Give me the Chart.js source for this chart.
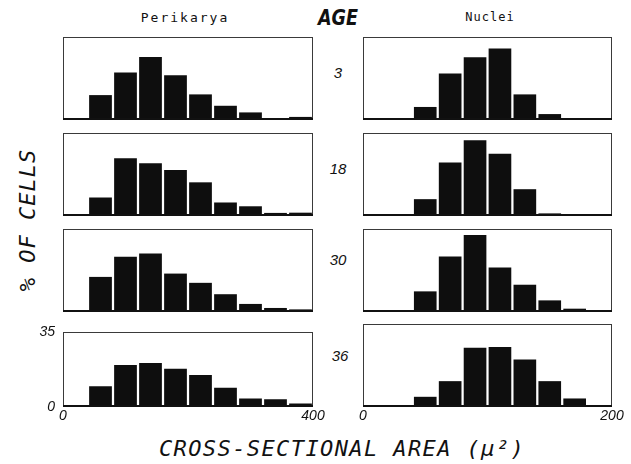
<!DOCTYPE html>
<html><head><meta charset="utf-8">
<script src="https://cdn.jsdelivr.net/npm/chart.js@4.4.1/dist/chart.umd.min.js"></script>
<style>
html,body{margin:0;padding:0;background:#fff;width:631px;height:464px;overflow:hidden;position:relative}
canvas{position:absolute}
.t{position:absolute;white-space:nowrap;color:#111;transform:translate(-50%,-50%);line-height:1}
</style></head><body>
<div class="t" style="left:185px;top:17px;font:13px 'DejaVu Sans Mono';letter-spacing:2px">Perikarya</div>
<div class="t" style="left:338px;top:17px;font:italic bold 22px 'DejaVu Sans';transform:translate(-50%,-50%) scaleX(0.8)">AGE</div>
<div class="t" style="left:490px;top:17px;font:12px 'DejaVu Sans Mono';letter-spacing:1px">Nuclei</div>
<div class="t" style="left:338px;top:72px;font:italic 15px 'Liberation Sans'">3</div>
<div class="t" style="left:338px;top:168px;font:italic 15px 'Liberation Sans'">18</div>
<div class="t" style="left:338px;top:259px;font:italic 15px 'Liberation Sans'">30</div>
<div class="t" style="left:340px;top:355px;font:italic 15px 'Liberation Sans'">36</div>
<div class="t" style="left:27px;top:220px;font:italic 22px 'DejaVu Sans Mono';letter-spacing:1px;transform:translate(-50%,-50%) rotate(-90deg)">% OF CELLS</div>
<div class="t" style="left:342px;top:448px;font:italic 22px 'DejaVu Sans Mono';letter-spacing:1.4px">CROSS-SECTIONAL AREA (μ²)</div>
<script>
// Bin centres (µm²)
const perikaryaBins = [60, 100, 140, 180, 220, 260, 300, 340, 380];
const nucleiBins = [50, 70, 90, 110, 130, 150, 170, 190];
// % of cells, perikarya, by age (months)
const peri3  = [10.5, 20.0, 26.6, 18.9, 10.8, 6.0, 3.2, 0.8, 1.3];
const peri18 = [7.8, 24.4, 22.2, 19.4, 14.2, 5.7, 4.1, 1.3, 1.4];
const peri30 = [14.8, 23.3, 24.7, 16.2, 12.3, 7.5, 3.4, 1.7, 1.1];
const peri36 = [9.7, 19.7, 20.7, 18.0, 15.0, 9.0, 4.0, 3.6, 1.6];
// % of cells, nuclei, by age
const nuc3  = [5.5, 19.6, 26.5, 30.1, 10.8, 2.5, 0.7, 0.7];
const nuc18 = [7.1, 22.6, 31.9, 26.2, 11.3, 1.1, 0.3, 0];
const nuc30 = [8.7, 23.4, 32.5, 18.8, 11.5, 4.9, 1.4, 0];
const nuc36 = [4.3, 10.9, 25.0, 25.3, 20.0, 10.9, 3.6, 0.7];
const yTicks = [0, 35];
const periXTicks = [0, 400];
const nucXTicks = [0, 200];

const framePlugin = {
  id: 'frame',
  afterDatasetsDraw(chart) {
    const {ctx, chartArea: a} = chart;
    ctx.save();
    ctx.strokeStyle = '#3a3a3a';
    ctx.lineWidth = 1;
    ctx.strokeRect(Math.round(a.left) + 0.5, Math.round(a.top) + 0.5,
      Math.round(a.right - a.left) - 1, Math.round(a.bottom - a.top) - 1);
    ctx.strokeStyle = '#111';
    ctx.lineWidth = 2;
    ctx.beginPath();
    ctx.moveTo(a.left, a.bottom - 1);
    ctx.lineTo(a.right, a.bottom - 1);
    ctx.stroke();
    ctx.restore();
  }
};

const YW = 36, PT = 8, PR = 22, XH = 20;
function panel(left, top, w, h, bins, vals, xTicks, showX, showY) {
  const c = document.createElement('canvas');
  const cw = YW + w + PR, ch = PT + h + XH;
  c.width = cw; c.height = ch;
  c.style.left = (left - YW) + 'px'; c.style.top = (top - PT) + 'px';
  c.style.width = cw + 'px'; c.style.height = ch + 'px';
  document.body.appendChild(c);
  const tickFont = {family: 'Liberation Sans', style: 'italic', size: 14};
  new Chart(c, {
    type: 'bar',
    data: {datasets: [{
      data: bins.map((b, i) => ({x: b, y: vals[i]})),
      backgroundColor: '#0e0e0e', borderWidth: 0,
      barPercentage: 0.91, categoryPercentage: 1
    }]},
    options: {
      responsive: false, animation: false, devicePixelRatio: 1,
      layout: {padding: {top: PT, right: PR, left: 0, bottom: 0}},
      plugins: {legend: {display: false}, tooltip: {enabled: false}},
      scales: {
        x: {
          type: 'linear', min: xTicks[0], max: xTicks[1], offset: false,
          grid: {display: false, drawTicks: false}, border: {display: false},
          afterBuildTicks: s => { s.ticks = xTicks.map(v => ({value: v})); },
          afterFit: s => { s.height = XH; },
          ticks: {display: showX, padding: 1, maxRotation: 0, autoSkip: false, color: '#111', font: tickFont}
        },
        y: {
          min: yTicks[0], max: yTicks[1],
          grid: {display: false, drawTicks: false}, border: {display: false},
          afterBuildTicks: s => { s.ticks = yTicks.map(v => ({value: v})); },
          afterFit: s => { s.width = YW; },
          ticks: {display: showY, padding: 8, color: '#111', font: tickFont}
        }
      }
    },
    plugins: [framePlugin]
  });
}
const LX = 63, RX = 363, LW = 250, RW = 249, PH = 83;
const rows = [37, 133, 229, 324];
const periData = [peri3, peri18, peri30, peri36];
const nucData = [nuc3, nuc18, nuc30, nuc36];
rows.forEach((t, i) => {
  const last = i === rows.length - 1;
  panel(LX, t, LW, PH, perikaryaBins, periData[i], periXTicks, last, last);
  panel(RX, t, RW, PH, nucleiBins, nucData[i], nucXTicks, last, false);
});
</script>
</body></html>
